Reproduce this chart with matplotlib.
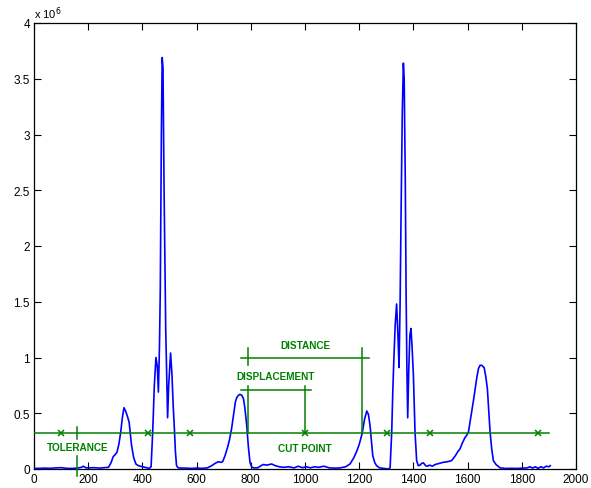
import matplotlib
matplotlib.use("Agg")
import matplotlib.pyplot as plt
from matplotlib.ticker import FuncFormatter, MultipleLocator

plt.rcParams['font.family'] = ['Liberation Sans', 'DejaVu Sans']

# Signal profile (x position, intensity)
sig_x = [0, 20, 40, 60, 80, 100, 120, 140, 160, 175, 182, 190, 200, 220, 240, 260, 275,
         285, 292, 300, 306, 313, 320, 326, 332, 338, 345, 351, 356, 360, 368, 376, 385,
         400, 415, 425, 432, 438, 444, 450, 455, 459, 463, 466, 470, 473, 476, 480, 486,
         490, 493, 497, 504, 509, 514, 518, 522, 526, 532, 545, 560, 580, 600, 620, 640,
         656, 668, 680, 690, 696, 705, 715, 722, 729, 737, 743, 748, 754, 760, 767, 773,
         778, 785, 791, 797, 803, 810, 825, 845, 860, 877, 890, 905, 920, 940, 960, 975,
         990, 1005, 1020, 1035, 1050, 1070, 1090, 1110, 1130, 1150, 1166, 1180, 1191,
         1200, 1211, 1220, 1228, 1234, 1240, 1245, 1250, 1257, 1264, 1275, 1290, 1307,
         1314, 1320, 1324, 1328, 1333, 1338, 1343, 1347, 1351, 1355, 1359, 1363, 1366,
         1370, 1373, 1376, 1379, 1383, 1387, 1391, 1395, 1400, 1406, 1412, 1418, 1425,
         1430, 1437, 1445, 1452, 1460, 1470, 1480, 1495, 1510, 1525, 1541, 1555, 1565,
         1572, 1580, 1590, 1596, 1603, 1609, 1615, 1622, 1628, 1634, 1640, 1646, 1652,
         1656, 1661, 1667, 1673, 1678, 1683, 1689, 1695, 1705, 1720, 1740, 1760, 1780,
         1800, 1820, 1830, 1840, 1850, 1860, 1870, 1880, 1890, 1900, 1905]
sig_y = [0.005, 0.006, 0.008, 0.006, 0.010, 0.012, 0.006, 0.005, 0.008, 0.015, 0.025,
         0.012, 0.010, 0.012, 0.008, 0.012, 0.015, 0.060, 0.110, 0.130, 0.150, 0.220,
         0.330, 0.460, 0.550, 0.520, 0.470, 0.420, 0.300, 0.210, 0.100, 0.045, 0.030,
         0.020, 0.012, 0.005, 0.020, 0.330, 0.750, 1.000, 0.920, 0.690, 1.100, 1.600,
         3.000, 3.690, 3.600, 2.500, 1.260, 0.800, 0.460, 0.750, 1.040, 0.850, 0.550,
         0.360, 0.150, 0.030, 0.010, 0.008, 0.008, 0.005, 0.008, 0.006, 0.010, 0.030,
         0.050, 0.065, 0.060, 0.065, 0.120, 0.200, 0.270, 0.360, 0.500, 0.600, 0.640,
         0.660, 0.670, 0.660, 0.630, 0.550, 0.390, 0.200, 0.060, 0.020, 0.010, 0.010,
         0.040, 0.035, 0.045, 0.030, 0.020, 0.015, 0.020, 0.010, 0.025, 0.012, 0.020,
         0.010, 0.020, 0.015, 0.025, 0.010, 0.008, 0.010, 0.020, 0.045, 0.100, 0.160,
         0.220, 0.320, 0.450, 0.520, 0.490, 0.390, 0.250, 0.120, 0.060, 0.030, 0.010,
         0.005, 0.000, 0.010, 0.330, 0.700, 0.990, 1.300, 1.480, 1.200, 0.910, 1.500,
         2.400, 3.200, 3.640, 3.500, 2.600, 1.600, 0.900, 0.460, 0.900, 1.200, 1.260,
         1.100, 0.840, 0.330, 0.075, 0.030, 0.035, 0.050, 0.055, 0.030, 0.025, 0.035,
         0.025, 0.040, 0.050, 0.060, 0.065, 0.075, 0.120, 0.160, 0.180, 0.230, 0.280,
         0.300, 0.330, 0.420, 0.510, 0.620, 0.720, 0.820, 0.900, 0.930, 0.930, 0.920,
         0.910, 0.830, 0.720, 0.520, 0.330, 0.180, 0.075, 0.040, 0.010, 0.005, 0.006,
         0.005, 0.007, 0.010, 0.020, 0.008, 0.020, 0.006, 0.020, 0.010, 0.025, 0.020,
         0.030]
sig_y = [v * 1e6 for v in sig_y]

# Cut level and annotation geometry
cut_level = 0.323e6
cut_span = [0, 1900]
cross_x = [100, 420, 575, 1000, 1303, 1461, 1860]
tol_x = 160
dist_y = 1.0e6
dist_span = [763, 1236]
disp_y = 0.71e6
disp_span = [763, 1021]
ref_x = 790
dist_end_x = 1210
disp_end_x = 1000

green = '#008000'

fig = plt.figure(figsize=(5.91, 4.89), dpi=100)
ax = fig.add_axes([34 / 591, 19 / 489, 542 / 591, 446 / 489])

ax.plot(sig_x, sig_y, color='#0000ff', lw=1.2, zorder=3)

# Cut line with crossing markers
ax.plot(cut_span, [cut_level, cut_level], color=green, lw=1.1, zorder=4)
ax.plot(cross_x, [cut_level] * len(cross_x), ls='none', marker='x', ms=5,
        mew=1.1, color=green, zorder=5)

# Tolerance marks
ax.plot([tol_x, tol_x], [cut_level - 0.05e6, cut_level + 0.05e6], color=green, lw=1.1, zorder=4)
ax.plot([tol_x, tol_x], [0.117e6, -0.063e6], color=green, lw=1.1, zorder=4, clip_on=False)
ax.text(tol_x, 0.2e6, 'TOLERANCE', color=green, fontsize=7.2, fontweight='bold',
        ha='center', va='center')

# Distance bracket
ax.plot(dist_span, [dist_y, dist_y], color=green, lw=1.1, zorder=4)
ax.plot([ref_x, ref_x], [0.93e6, 1.085e6], color=green, lw=1.1, zorder=4)
ax.plot([dist_end_x, dist_end_x], [1.085e6, cut_level], color=green, lw=1.1, zorder=4)
ax.text(1000, 1.11e6, 'DISTANCE', color=green, fontsize=7.2, fontweight='bold',
        ha='center', va='center')

# Displacement bracket
ax.plot(disp_span, [disp_y, disp_y], color=green, lw=1.1, zorder=4)
ax.plot([ref_x, ref_x], [0.745e6, cut_level], color=green, lw=1.1, zorder=4)
ax.plot([disp_end_x, disp_end_x], [0.745e6, cut_level], color=green, lw=1.1, zorder=4)
ax.text(890, 0.837e6, 'DISPLACEMENT', color=green, fontsize=7.2, fontweight='bold',
        ha='center', va='center')

ax.text(1000, 0.19e6, 'CUT POINT', color=green, fontsize=7.2, fontweight='bold',
        ha='center', va='center')

ax.set_xlim(0, 2000)
ax.set_ylim(0, 4e6)
ax.xaxis.set_major_locator(MultipleLocator(200))
ax.yaxis.set_major_locator(MultipleLocator(0.5e6))
ax.yaxis.set_major_formatter(FuncFormatter(lambda v, p: f'{v / 1e6:g}'))
ax.tick_params(direction='in', length=5, width=0.8, top=True, right=True,
               labelsize=8.5, pad=3)
for s in ax.spines.values():
    s.set_linewidth(0.9)
ax.text(0, 1.005, r'x 10$^{6}$', transform=ax.transAxes, fontsize=8,
        ha='left', va='bottom')

fig.savefig('out.png', dpi=100)
